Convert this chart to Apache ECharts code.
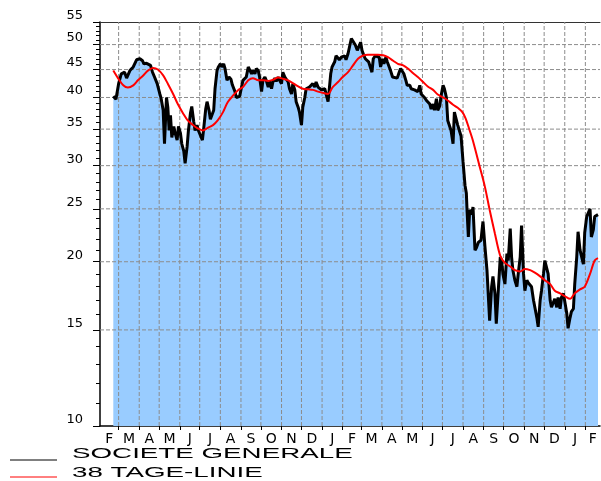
<!DOCTYPE html>
<html>
<head>
<meta charset="utf-8">
<title>Societe Generale</title>
<script src="https://cdn.jsdelivr.net/npm/echarts@6/dist/echarts.min.js"></script>
<style>
    html, body { margin: 0; padding: 0; background: #fff; }
    #chart { width: 601px; height: 481px; }
</style>
</head>
<body>
<div id="chart"></div>
<script>
// Societe Generale share price (daily close) with its 38 day line, Feb 2010 - Feb 2012
// x values are days counted from 1 Feb 2010

const startDate = Date.UTC(2010, 1, 1);
const lastDay = 752;

const monthLabels = ['F', 'M', 'A', 'M', 'J', 'J', 'A', 'S', 'O', 'N', 'D', 'J',
                     'F', 'M', 'A', 'M', 'J', 'J', 'A', 'S', 'O', 'N', 'D', 'J', 'F'];

const yLabels = [10, 15, 20, 25, 30, 35, 40, 45, 50, 55];
const yGrid = [15, 20, 25, 30, 35, 40, 45, 50];
const yMinorTicks = [11, 12, 13, 14, 16, 17, 18, 19, 21, 22, 23, 24, 26, 27, 28, 29,
                     31, 32, 33, 34, 36, 37, 38, 39, 41, 42, 43, 44, 46, 47, 48, 49,
                     51, 52, 53, 54];

const priceDay = [20, 24, 28, 32, 37, 40, 45, 50, 55, 60, 64, 66, 70, 73, 76, 79, 82, 86, 90, 92,
    95, 97, 100, 102, 104, 106, 108, 111, 113, 116, 118, 121, 123, 126, 128, 131, 133, 136, 138, 141,
    143, 146, 148, 151, 154, 156, 159, 161, 164, 166, 169, 171, 173, 176, 178, 181, 183, 186, 188, 191,
    194, 197, 199, 203, 205, 208, 210, 212, 215, 218, 220, 223, 225, 228, 230, 233, 235, 238, 240, 243,
    245, 248, 250, 253, 255, 258, 260, 263, 265, 268, 270, 273, 275, 278, 280, 283, 285, 288, 290, 293,
    295, 298, 300, 303, 305, 308, 310, 313, 315, 318, 320, 323, 325, 328, 330, 333, 335, 338, 340, 343,
    344, 347, 349, 353, 355, 358, 360, 363, 365, 368, 370, 373, 375, 378, 381, 384, 387, 390, 392, 394,
    397, 399, 402, 404, 406, 409, 411, 414, 417, 420, 422, 425, 427, 430, 432, 435, 437, 440, 443, 447,
    450, 452, 455, 457, 460, 462, 466, 468, 471, 473, 476, 478, 481, 483, 486, 488, 491, 493, 496, 498,
    501, 503, 506, 508, 511, 513, 516, 518, 521, 523, 526, 528, 531, 533, 536, 538, 541, 543, 546, 549,
    551, 552, 554, 556, 559, 561, 564, 566, 569, 571, 573, 576, 579, 582, 584, 586, 589, 591, 594, 596,
    599, 602, 604, 606, 609, 612, 614, 617, 619, 621, 624, 627, 629, 632, 634, 637, 639, 642, 644, 647,
    649, 652, 654, 657, 659, 662, 664, 667, 669, 672, 674, 677, 679, 682, 684, 687, 689, 692, 694, 697,
    699, 702, 704, 707, 709, 712, 714, 717, 719, 722, 724, 727, 729, 732, 734, 737, 739, 742, 744, 749];

const price = [40.2, 39.7, 42.4, 44.2, 44.5, 43.4, 44.8, 45.5, 46.9, 47.1, 46.7, 46.1, 46.2, 46.1, 45.8, 44.5, 43.6, 42.4, 40.6, 39.8,
    37.9, 32.9, 40.0, 38.4, 34.8, 37.1, 33.8, 35.4, 34.4, 33.4, 35.4, 34.4, 32.9, 31.9, 30.3, 32.5, 34.8, 37.4, 38.5, 36.1,
    34.8, 35.6, 34.8, 34.8, 33.4, 35.1, 38.1, 39.3, 37.9, 36.5, 36.3, 37.9, 41.5, 44.8, 45.5, 46.1, 45.5, 46.1, 45.2, 43.0,
    43.6, 43.2, 42.2, 41.0, 40.0, 40.0, 40.2, 41.3, 43.0, 42.7, 43.6, 45.5, 45.8, 44.2, 44.8, 44.2, 45.2, 44.8, 43.6, 41.0,
    43.0, 43.6, 43.0, 41.8, 43.0, 41.5, 42.7, 43.4, 42.8, 43.6, 43.0, 42.4, 44.5, 43.6, 43.9, 42.7, 41.5, 40.6, 42.4, 41.3,
    39.3, 38.4, 37.6, 35.6, 38.4, 40.0, 41.5, 41.3, 41.8, 41.5, 42.4, 41.8, 42.7, 41.8, 42.1, 41.3, 41.0, 41.5, 40.6, 39.3,
    40.4, 44.2, 45.5, 46.5, 47.7, 47.4, 46.9, 47.4, 47.1, 47.7, 46.9, 48.1, 48.1, 51.3, 51.6, 49.9, 48.8, 49.1, 50.5, 48.8,
    47.7, 47.1, 47.4, 46.5, 46.2, 44.5, 47.1, 47.7, 47.7, 47.4, 45.5, 47.1, 46.1, 47.4, 46.5, 45.5, 44.8, 43.6, 43.4, 43.4,
    44.5, 45.2, 45.2, 44.2, 43.0, 42.1, 42.1, 41.5, 41.8, 41.3, 41.5, 41.0, 42.1, 40.6, 40.3, 40.0, 39.5, 39.2, 38.9, 38.1,
    38.9, 37.9, 39.8, 37.9, 38.6, 40.3, 42.1, 41.5, 40.0, 36.3, 36.0, 34.8, 32.9, 37.6, 37.9, 35.6, 35.6, 34.0, 30.5, 27.6,
    26.7, 24.9, 22.2, 24.9, 24.4, 25.2, 21.0, 21.2, 21.7, 21.8, 21.9, 23.7, 21.3, 19.3, 19.4, 15.6, 18.0, 18.8, 17.5, 15.4,
    17.7, 20.4, 20.1, 19.0, 18.2, 20.7, 20.1, 23.0, 20.4, 19.3, 18.5, 18.0, 19.0, 20.4, 23.3, 19.0, 17.7, 18.5, 18.3, 18.3,
    18.0, 17.0, 16.5, 15.8, 15.2, 17.0, 17.7, 19.0, 20.1, 20.0, 19.0, 17.0, 16.5, 16.4, 17.1, 16.5, 17.2, 16.4, 17.2, 17.5,
    17.5, 16.1, 15.1, 15.8, 16.2, 16.4, 18.2, 20.4, 22.7, 21.0, 21.0, 19.8, 22.6, 24.2, 24.0, 25.0, 22.2, 22.9, 24.2, 24.4];

const maDay = [20, 27, 35, 42, 50, 57, 65, 72, 80, 87, 95, 102, 110, 117, 125, 132, 140, 147, 155, 162,
    170, 177, 185, 192, 200, 208, 215, 223, 230, 238, 245, 253, 260, 268, 275, 283, 290, 298, 305, 313,
    320, 328, 335, 343, 350, 358, 365, 373, 380, 388, 395, 403, 411, 418, 426, 433, 441, 448, 456, 463,
    471, 478, 486, 493, 501, 508, 516, 523, 531, 538, 545, 550, 556, 561, 571, 579, 586, 594, 602, 609,
    617, 624, 632, 639, 647, 654, 662, 669, 677, 684, 692, 699, 707, 714, 722, 729, 737, 744, 749];

const ma = [44.8, 43.4, 42.1, 41.7, 42.1, 43.0, 43.9, 44.8, 45.3, 45.0, 43.9, 42.4, 40.6, 38.9, 37.4, 36.3, 35.6, 35.1, 34.8, 35.2,
    35.6, 36.3, 37.6, 39.2, 40.3, 41.3, 41.8, 43.0, 43.4, 43.0, 43.0, 42.9, 43.1, 43.5, 43.3, 43.0, 42.5, 41.9, 41.5, 41.4,
    41.3, 41.0, 40.8, 40.6, 41.8, 42.7, 43.6, 44.5, 45.7, 47.1, 47.7, 47.9, 47.9, 47.9, 47.8, 47.4, 46.7, 46.1, 45.8, 45.2,
    44.3, 43.6, 42.7, 41.9, 41.3, 40.5, 40.0, 39.5, 38.8, 38.3, 37.6, 36.6, 34.8, 33.3, 29.9, 27.4, 24.9, 22.5, 20.5, 19.9,
    19.6, 19.3, 19.2, 19.4, 19.3, 19.1, 18.8, 18.5, 18.2, 17.7, 17.5, 17.3, 17.1, 17.5, 17.8, 18.0, 19.0, 20.1, 20.3];

// month boundaries (in days from start) for ticks and grid, month middles for labels
const DAY = 24 * 3600 * 1000;
const monthStarts = [];
const labelPos = [];
for (let i = 0; i < monthLabels.length; i++) {
    const s = (Date.UTC(2010, 1 + i, 1) - startDate) / DAY;
    const e = (Date.UTC(2010, 2 + i, 1) - startDate) / DAY;
    if (i > 0) monthStarts.push(s);
    labelPos.push((Math.max(s, 0) + Math.min(e, lastDay)) / 2);
}
const labelText = {};
labelPos.forEach((p, i) => { labelText[p] = monthLabels[i]; });

// dashed grid lines as thin series, kept under the area (area series has higher z)
const gridSeries = yGrid.map(v => [[0, v], [lastDay, v]])
    .concat(monthStarts.map(d => [[d, 10], [d, 55]]))
    .map(pts => ({
        type: 'line',
        silent: true,
        showSymbol: false,
        data: pts,
        lineStyle: { color: '#8c8c8c', width: 1, type: 'dashed' }
    }));

const chart = echarts.init(document.getElementById('chart'));

const option = {
    animation: false,
    backgroundColor: '#fff',
    grid: { left: 100, right: 1, top: 22, bottom: 55 },
    xAxis: [{
        type: 'value',
        min: 0,
        max: lastDay,
        axisLine: { show: true, lineStyle: { color: '#000', width: 1.5 } },
        axisTick: { show: true, length: 4, customValues: monthStarts, lineStyle: { color: '#000' } },
        axisLabel: {
            customValues: labelPos,
            formatter: v => labelText[v] || '',
            color: '#000',
            fontFamily: 'DejaVu Sans',
            fontSize: 14,
            margin: 6
        },
        splitLine: { show: false }
    }, {
        type: 'value',
        position: 'top',
        min: 0,
        max: lastDay,
        axisLine: { show: true, lineStyle: { color: '#333', width: 1 } },
        axisTick: { show: false },
        axisLabel: { show: false },
        splitLine: { show: false }
    }],
    yAxis: [{
        type: 'log',
        min: 10,
        max: 55,
        axisLine: { show: true, lineStyle: { color: '#000', width: 1.5 } },
        axisTick: { show: true, length: 7, customValues: yLabels, lineStyle: { color: '#000' } },
        axisLabel: {
            customValues: yLabels,
            color: '#000',
            fontFamily: 'DejaVu Sans',
            fontSize: 13,
            margin: 17,
            verticalAlign: 'bottom'
        },
        splitLine: { show: false }
    }, {
        type: 'log',
        min: 10,
        max: 55,
        position: 'left',
        axisLine: { show: false },
        axisTick: { show: true, length: 4, customValues: yMinorTicks, lineStyle: { color: '#000' } },
        axisLabel: { show: false },
        splitLine: { show: false }
    }],
    series: gridSeries.concat([{
        name: 'SOCIETE GENERALE',
        type: 'line',
        z: 3,
        data: priceDay.map((d, i) => [d, price[i]]),
        showSymbol: false,
        lineStyle: { color: '#000', width: 3 },
        areaStyle: { color: '#99ccff', opacity: 1, origin: 'start' }
    }, {
        name: '38 TAGE-LINIE',
        type: 'line',
        z: 4,
        data: maDay.map((d, i) => [d, ma[i]]),
        showSymbol: false,
        smooth: 0.3,
        lineStyle: { color: '#ff0000', width: 2 }
    }]),
    graphic: [
        { type: 'line', shape: { x1: 10, y1: 460, x2: 57, y2: 460 }, style: { stroke: '#000', lineWidth: 1 } },
        { type: 'text', x: 72, y: 446, scaleX: 1.85, style: { text: 'SOCIETE GENERALE', fill: '#000', font: '15px "Liberation Sans"', verticalAlign: 'top' } },
        { type: 'line', shape: { x1: 10, y1: 477, x2: 57, y2: 477 }, style: { stroke: '#ff0000', lineWidth: 1 } },
        { type: 'text', x: 72, y: 465, scaleX: 1.85, style: { text: '38 TAGE-LINIE', fill: '#000', font: '15px "Liberation Sans"', verticalAlign: 'top' } }
    ]
};

chart.setOption(option);
</script>
</body>
</html>
